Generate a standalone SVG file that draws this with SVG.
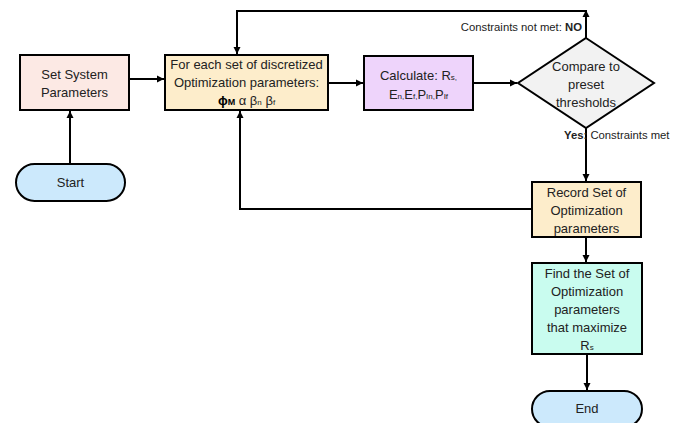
<svg xmlns="http://www.w3.org/2000/svg" width="681" height="423" viewBox="0 0 681 423">
<defs>
<marker id="ah" markerWidth="8" markerHeight="8" refX="7" refY="4" orient="auto" markerUnits="userSpaceOnUse">
<path d="M0,0.5 L7,4 L0,7.5 Z" fill="#000"/>
</marker>
<style>
.box{stroke:#000;stroke-width:2}
.t{font-family:"Liberation Sans",Arial,sans-serif;font-size:13px;fill:#222;text-anchor:middle}
.s{font-family:"Liberation Sans",Arial,sans-serif;font-size:11.3px;fill:#222}
.c{fill:none;stroke:#000;stroke-width:2}
</style>
</defs>
<rect width="681" height="423" fill="#fff"/>
<g id="connectors">
<path class="c" d="M70,164 V111" marker-end="url(#ah)"/>
<path class="c" d="M129,79 H164" marker-end="url(#ah)"/>
<path class="c" d="M328,83 H363" marker-end="url(#ah)"/>
<path class="c" d="M473,83 H517" marker-end="url(#ah)"/>
<path class="c" d="M586,11 H237 V54" marker-end="url(#ah)"/>
<path class="c" d="M586,38 V10" marker-end="url(#ah)"/>
<path class="c" d="M586,128 V181" marker-end="url(#ah)"/>
<path class="c" d="M532,209 H240 V111" marker-end="url(#ah)"/>
<path class="c" d="M586,237 V262" marker-end="url(#ah)"/>
<path class="c" d="M587,354 V390" marker-end="url(#ah)"/>
<text class="s" x="582" y="31" text-anchor="end">Constraints not met: <tspan font-weight="bold">NO</tspan></text>
<text class="s" x="564" y="139"><tspan font-weight="bold">Yes:</tspan> Constraints met</text>
</g>
<g id="start">
<rect class="box" x="16" y="164" width="109" height="37" rx="18.5" fill="#cce9fc"/>
<text class="t" x="70.5" y="187">Start</text>
</g>
<g id="set-system">
<rect class="box" x="20" y="55" width="109" height="55" fill="#fce9e4"/>
<text class="t" x="74.5" y="79">Set System</text>
<text class="t" x="74.5" y="97">Parameters</text>
</g>
<g id="for-each">
<rect class="box" x="165" y="55" width="163" height="55" fill="#fdedcb"/>
<text class="t" x="246.5" y="69">For each set of discretized</text>
<text class="t" x="246.5" y="87">Optimization parameters:</text>
<text class="t" x="246.5" y="105" font-size="14px"><tspan font-weight="bold" fill="#000">ϕ<tspan font-size="9px">M</tspan></tspan> α β<tspan font-size="8px">n</tspan> β<tspan font-size="8px">f</tspan></text>
</g>
<g id="calculate">
<rect class="box" x="364" y="56" width="109" height="54" fill="#eed4fb"/>
<text class="t" x="418.5" y="80" font-size="13.5px">Calculate: R<tspan font-size="8px">s,</tspan></text>
<text class="t" x="418.5" y="99">E<tspan font-size="8px">n,</tspan>E<tspan font-size="8px">f,</tspan>P<tspan font-size="8px">In,</tspan>P<tspan font-size="8px">If</tspan></text>
</g>
<g id="compare">
<polygon class="box" points="586,38 654,83 586,128 518,83" fill="#f2f2f2"/>
<text class="t" x="586" y="71">Compare to</text>
<text class="t" x="586" y="89">preset</text>
<text class="t" x="586" y="107">thresholds</text>
</g>
<g id="record">
<rect class="box" x="532" y="182" width="109" height="55" fill="#fdedcb"/>
<text class="t" x="586.5" y="197">Record Set of</text>
<text class="t" x="586.5" y="215">Optimization</text>
<text class="t" x="586.5" y="233">parameters</text>
</g>
<g id="find">
<rect class="box" x="532" y="263" width="110" height="91" fill="#c9fcef"/>
<text class="t" x="587" y="278">Find the Set of</text>
<text class="t" x="587" y="296">Optimization</text>
<text class="t" x="587" y="314">parameters</text>
<text class="t" x="587" y="332">that maximize</text>
<text class="t" x="587" y="350">R<tspan font-size="8px">s</tspan></text>
</g>
<g id="end">
<rect class="box" x="532" y="391" width="110" height="36" rx="18" fill="#cce9fc"/>
<text class="t" x="587" y="413" font-size="12px">End</text>
</g>
</svg>
